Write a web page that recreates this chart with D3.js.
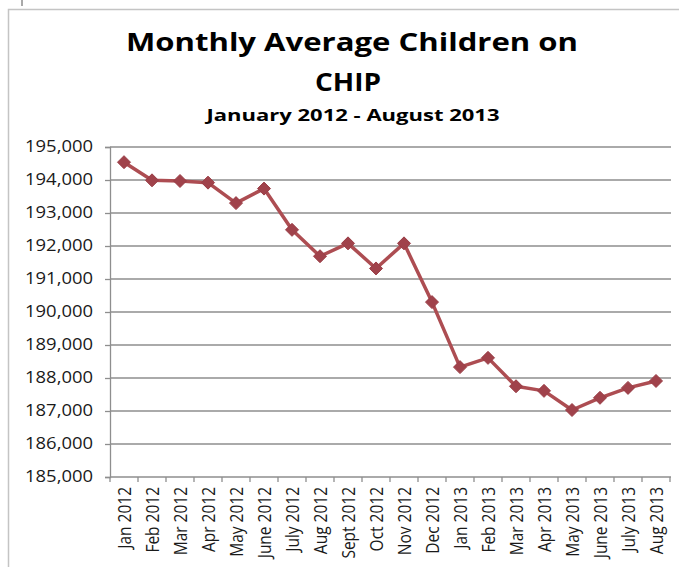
<!DOCTYPE html>
<html>
<head>
<meta charset="utf-8">
<script src="https://cdn.jsdelivr.net/npm/d3@7.9.0/dist/d3.min.js"></script>
<style>
  body { margin: 0; background: #fff; }
  text { font-family: "Open Sans", sans-serif; }
</style>
</head>
<body>
<div id="vis"></div>
<script>
const months = [
  "Jan 2012", "Feb 2012", "Mar 2012", "Apr 2012", "May 2012", "June 2012",
  "July 2012", "Aug 2012", "Sept 2012", "Oct 2012", "Nov 2012", "Dec 2012",
  "Jan 2013", "Feb 2013", "Mar 2013", "Apr 2013", "May 2013", "June 2013",
  "July 2013", "Aug 2013"
];
const children = [
  194540, 193990, 193970, 193920, 193300, 193740,
  192490, 191690, 192080, 191320, 192080, 190300,
  188330, 188610, 187750, 187610, 187030, 187400,
  187700, 187910
];
const yTicks = [185000, 186000, 187000, 188000, 189000, 190000, 191000, 192000, 193000, 194000, 195000];

const width = 693;
const height = 567;
const sx = 1.19; // picture is stretched sideways, so is the text

const x = d3.scaleBand().domain(months).range([110, 670]);
const y = d3.scaleLinear().domain([185000, 195000]).range([477, 147]);

const svg = d3.select("#vis").append("svg")
  .attr("width", width)
  .attr("height", height);

// frame
svg.append("path")
  .attr("d", "M8.5,567 V9.5 H679")
  .attr("fill", "none")
  .attr("stroke", "#c4c4c4")
  .attr("stroke-width", 1.5);
svg.append("line")
  .attr("x1", 22).attr("x2", 22).attr("y1", 0).attr("y2", 6)
  .attr("stroke", "#555");

// titles
svg.append("text")
  .attr("x", 352).attr("y", 51)
  .attr("text-anchor", "middle")
  .attr("font-size", 25).attr("font-weight", "bold")
  .attr("textLength", 452).attr("lengthAdjust", "spacingAndGlyphs")
  .text("Monthly Average Children on");
svg.append("text")
  .attr("x", 348).attr("y", 90.5)
  .attr("text-anchor", "middle")
  .attr("font-size", 25).attr("font-weight", "bold")
  .attr("textLength", 66).attr("lengthAdjust", "spacingAndGlyphs")
  .text("CHIP");
svg.append("text")
  .attr("x", 353).attr("y", 120.5)
  .attr("text-anchor", "middle")
  .attr("font-size", 16.5).attr("font-weight", "bold")
  .attr("textLength", 293).attr("lengthAdjust", "spacingAndGlyphs")
  .text("January 2012 - August 2013");

// gridlines
svg.append("g")
  .selectAll("line")
  .data(yTicks.slice(1))
  .join("line")
  .attr("x1", 110).attr("x2", 671)
  .attr("y1", d => y(d)).attr("y2", d => y(d))
  .attr("stroke", "#8e8e8e")
  .attr("stroke-width", 1.3);

// y axis
const yAxis = svg.append("g")
  .attr("transform", "translate(110,0)")
  .call(d3.axisLeft(y).tickValues(yTicks).tickSize(5).tickFormat(d3.format(",")));
yAxis.select(".domain").attr("stroke", "#8e8e8e").attr("stroke-width", 1.3);
yAxis.selectAll(".tick line").attr("stroke", "#8e8e8e").attr("stroke-width", 1.3);
yAxis.selectAll(".tick text")
  .attr("x", 0)
  .attr("transform", `translate(-17,0) scale(${sx},1)`)
  .attr("font-family", "Open Sans")
  .attr("font-size", 15.5)
  .attr("fill", "#1a1a1a");

// x axis
const xAxis = svg.append("g");
xAxis.append("line")
  .attr("x1", 110).attr("x2", 671)
  .attr("y1", y(185000)).attr("y2", y(185000))
  .attr("stroke", "#8e8e8e").attr("stroke-width", 1.3);
xAxis.selectAll("line.tick")
  .data(d3.range(months.length + 1))
  .join("line")
  .attr("class", "tick")
  .attr("x1", i => 110 + i * x.step()).attr("x2", i => 110 + i * x.step())
  .attr("y1", y(185000)).attr("y2", y(185000) + 5)
  .attr("stroke", "#8e8e8e").attr("stroke-width", 1.3);
xAxis.selectAll("text")
  .data(months)
  .join("text")
  .attr("transform", d => `translate(${x(d) + x.bandwidth() / 2},487) scale(${sx},1) rotate(-90)`)
  .attr("text-anchor", "end")
  .attr("dy", "0.36em")
  .attr("font-size", 15.5)
  .attr("fill", "#1a1a1a")
  .text(d => d);

// series
const cx = (d, i) => x(months[i]) + x.bandwidth() / 2;
const line = d3.line()
  .x(cx)
  .y(d => y(d));
svg.append("path")
  .datum(children)
  .attr("d", line)
  .attr("fill", "none")
  .attr("stroke", "#ad4d52")
  .attr("stroke-width", 3.5)
  .attr("stroke-linejoin", "round");

svg.append("g")
  .selectAll("path")
  .data(children)
  .join("path")
  .attr("transform", (d, i) => `translate(${cx(d, i)},${y(d)})`)
  .attr("d", "M0,-6.5 L6.5,0 L0,6.5 L-6.5,0 Z")
  .attr("fill", "#a0424b")
  .attr("stroke", "#9a3d46")
  .attr("stroke-width", 1);
</script>
</body>
</html>
